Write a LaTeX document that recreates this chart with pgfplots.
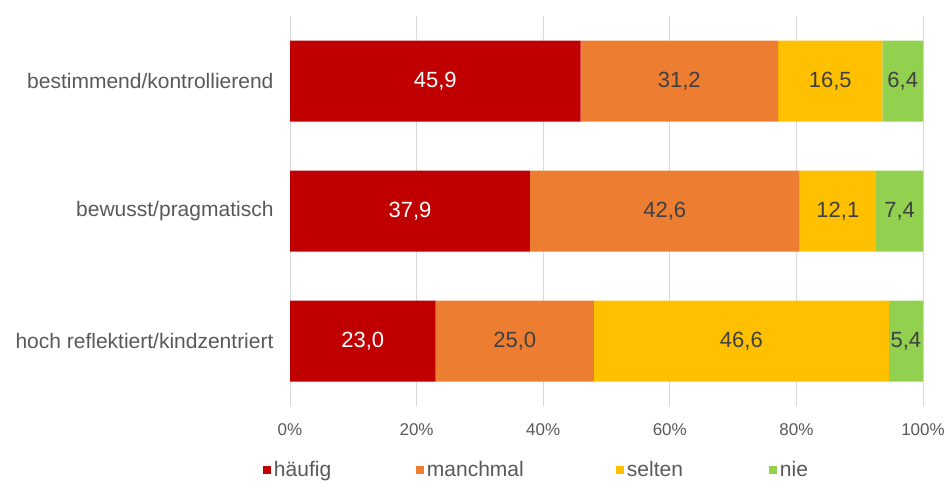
\documentclass[border=0pt]{standalone}
\usepackage{pgfplots}
\pgfplotsset{compat=1.18}
\usepackage{fontspec}
\setmainfont{Liberation Sans}
\definecolor{cRed}{HTML}{C00000}
\definecolor{cOrange}{HTML}{ED7D31}
\definecolor{cGold}{HTML}{FFC000}
\definecolor{cGreen}{HTML}{92D050}
\definecolor{txt}{HTML}{595959}
\definecolor{dtxt}{HTML}{404040}
\definecolor{gridc}{HTML}{D9D9D9}
\pgfplotsset{
  sq legend/.style={legend image code/.code={\fill[##1] (0pt,-4pt) rectangle (8pt,4pt);}},
}
\begin{document}
\begin{tikzpicture}[x=1pt,y=1pt]
\useasboundingbox (0,0) rectangle (947,484);
\begin{axis}[
  at={(290pt,78pt)}, anchor=south west,
  scale only axis, width=633pt, height=390pt,
  xbar stacked, bar width=81pt,
  xmin=0, xmax=100, ymin=-0.5, ymax=2.5,
  y dir=reverse,
  ytick={0,1,2},
  yticklabels={bestimmend/kontrollierend, bewusst/pragmatisch, hoch reflektiert/kindzentriert},
  xtick={0,20,40,60,80,100},
  xticklabels={0\%,20\%,40\%,60\%,80\%,100\%},
  major tick length=0pt,
  axis line style={draw=none},
  xmajorgrids, grid style={draw=gridc, line width=0.8pt},
  yticklabel style={font=\fontsize{21}{25}\selectfont, text=txt, xshift=-13pt},
  xticklabel style={font=\fontsize{17}{20}\selectfont, text=txt, yshift=-14pt},
  /pgf/number format/assume math mode=true,
  point meta=explicit,
  nodes near coords={\pgfmathprintnumber[fixed,fixed zerofill,precision=1,use comma]{\pgfplotspointmeta}},
  every node near coord/.append style={anchor=center, font=\fontsize{22}{26}\selectfont, text=dtxt},
  legend style={at={(-0.0427,-0.1641)}, anchor=west, legend columns=4, draw=none, fill=none,
    inner sep=0pt, outer sep=0pt, column sep=0pt,
    nodes={inner sep=0pt, text=txt, font=\fontsize{21}{25}\selectfont}},
  legend cell align=left,
]
\addplot[fill=cRed, draw=none, sq legend, every node near coord/.append style={text=white}] coordinates {(45.9,0) [45.9] (37.9,1) [37.9] (23.0,2) [23.0]};
\addlegendentry{\makebox[145pt][l]{\hspace{3pt}häufig}}
\addplot[fill=cOrange, draw=none, sq legend] coordinates {(31.2,0) [31.2] (42.6,1) [42.6] (25.0,2) [25.0]};
\addlegendentry{\makebox[192pt][l]{\hspace{3pt}manchmal}}
\addplot[fill=cGold, draw=none, sq legend] coordinates {(16.5,0) [16.5] (12.1,1) [12.1] (46.6,2) [46.6]};
\addlegendentry{\makebox[145pt][l]{\hspace{3pt}selten}}
\addplot[fill=cGreen, draw=none, sq legend] coordinates {(6.4,0) [6.4] (7.4,1) [7.4] (5.4,2) [5.4]};
\addlegendentry{\makebox[30pt][l]{\hspace{3pt}nie}}
\end{axis}
\end{tikzpicture}
\end{document}
